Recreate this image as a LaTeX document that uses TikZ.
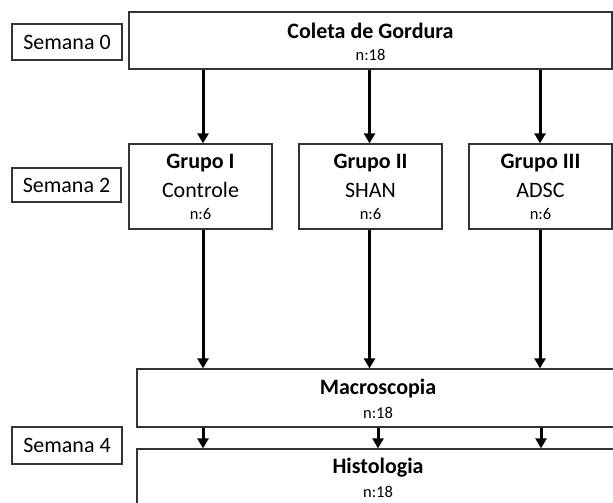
\documentclass[tikz,border=0pt]{standalone}
\usepackage{fontspec}
\setmainfont{Carlito}
\usetikzlibrary{arrows.meta}
\tikzset{
  box/.style={draw=black!80, line width=1.3pt, fill=white, inner sep=0pt},
  big/.style={font=\fontsize{22}{26}\selectfont, inner sep=0pt},
  bigb/.style={font=\fontsize{22}{26}\selectfont\bfseries, inner sep=0pt},
  small/.style={font=\fontsize{16.5}{20}\selectfont, inner sep=0pt},
  flow/.style={line width=3pt, -{Triangle[width=11pt,length=10pt]}, shorten <=0.6pt}
}
\begin{document}
\begin{tikzpicture}[x=1pt,y=-1pt]
\useasboundingbox (0,0) rectangle (613,503);
\begin{scope}
\clip (0,0) rectangle (613,503);
% week labels
\node[box, minimum width=110, minimum height=36] (s0) at (67,42) {};
\node[big] at (s0.center) {Semana 0};
\node[box, minimum width=109, minimum height=34] (s2) at (66.5,185) {};
\node[big] at (s2.center) {Semana 2};
\node[box, minimum width=110, minimum height=37] (s4) at (67,445.5) {};
\node[big] at (s4.center) {Semana 4};
% main boxes
\node[box, minimum width=483, minimum height=57] (coleta) at (370.5,40.5) {};
\node[bigb] at (370.5,31) {Coleta de Gordura};
\node[small] at (370.5,55) {n:18};
\node[box, minimum width=143, minimum height=85] (g1) at (200.5,186.5) {};
\node[box, minimum width=143, minimum height=85] (g2) at (370.5,186.5) {};
\node[box, minimum width=143, minimum height=85] (g3) at (540.5,186.5) {};
\node[bigb] at (200.5,163) {Grupo I};
\node[big] at (200.5,190) {Controle};
\node[small] at (200.5,214) {n:6};
\node[bigb] at (370.5,163) {Grupo II};
\node[big] at (370.5,190) {SHAN};
\node[small] at (370.5,214) {n:6};
\node[bigb] at (540.5,163) {Grupo III};
\node[big] at (540.5,190) {ADSC};
\node[small] at (540.5,214) {n:6};
\node[box, minimum width=482, minimum height=58] (macro) at (378,398) {};
\node[bigb] at (378,389) {Macroscopia};
\node[small] at (378,413) {n:18};
\node[box, minimum width=482, minimum height=58] (histo) at (378,478) {};
\node[bigb] at (378,468) {Histologia};
\node[small] at (378,492) {n:18};
% arrow columns
\coordinate (c1) at (203,0);
\coordinate (c2) at (369.5,0);
\coordinate (c3) at (540,0);
\coordinate (d2) at (378,0);
\coordinate (d3) at (541,0);
\draw[flow] (coleta.south -| c1) -- (g1.north -| c1);
\draw[flow] (coleta.south -| c2) -- (g2.north -| c2);
\draw[flow] (coleta.south -| c3) -- (g3.north -| c3);
\draw[flow] (g1.south -| c1) -- (macro.north -| c1);
\draw[flow] (g2.south -| c2) -- (macro.north -| c2);
\draw[flow] (g3.south -| c3) -- (macro.north -| c3);
\draw[flow] (macro.south -| c1) -- (histo.north -| c1);
\draw[flow] (macro.south -| d2) -- (histo.north -| d2);
\draw[flow] (macro.south -| d3) -- (histo.north -| d3);
\end{scope}
\end{tikzpicture}
\end{document}
